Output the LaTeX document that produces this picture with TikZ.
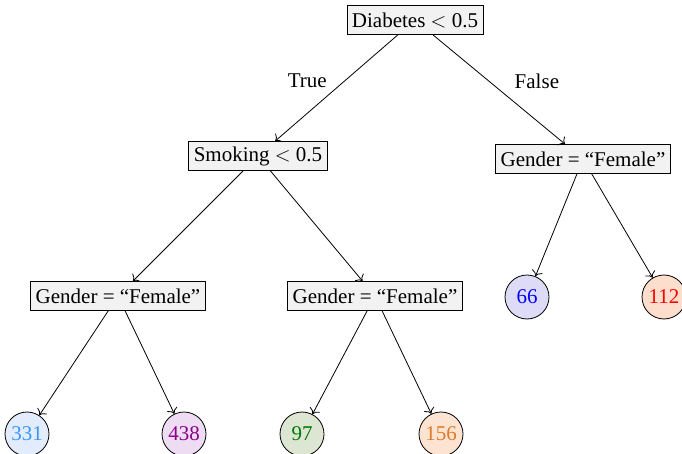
\documentclass[tikz,border=0pt]{standalone}
\usepackage{fontspec}
\setmainfont{Liberation Serif}
\usetikzlibrary{arrows.meta}
\begin{document}
\begin{tikzpicture}[x=1pt,y=-1pt,
    every node/.style={font=\fontsize{21}{25}\selectfont},
    line width=0.8pt,
    split/.style={draw, fill=gray!10, inner sep=5pt, minimum height=29pt},
    leaf/.style={draw, circle, minimum size=44pt, inner sep=0pt},
    edge/.style={-{To[scale=1.6]}},
    branch/.style={draw=none, fill=none}]
  \useasboundingbox (0,0) rectangle (682,454);

  % leaf colours
  \definecolor{azfill}{HTML}{E3ECFC}\definecolor{aztext}{HTML}{3399FF}
  \definecolor{vifill}{HTML}{EEDCF3}\definecolor{vitext}{HTML}{8C008C}
  \definecolor{grfill}{HTML}{DCE6D2}\definecolor{grtext}{HTML}{007A00}
  \definecolor{orfill}{HTML}{FDE3D2}\definecolor{ortext}{HTML}{E07A28}
  \definecolor{blfill}{HTML}{DEDBF7}\definecolor{bltext}{HTML}{0000FF}
  \definecolor{rdfill}{HTML}{FDDDCC}\definecolor{rdtext}{HTML}{FF0000}

  % decision nodes
  \node[split] (root) at (415,20)  {Diabetes $<$ 0.5};
  \node[split] (smk)  at (258,156) {Smoking $<$ 0.5};
  \node[split] (gr)   at (583,159) {Gender = “Female”};
  \node[split] (gl)   at (118,296) {Gender = “Female”};
  \node[split] (gm)   at (375,296) {Gender = “Female”};

  % leaves
  \node[leaf, fill=azfill, text=aztext] (l331) at (27,434)  {331};
  \node[leaf, fill=vifill, text=vitext] (l438) at (184,434) {438};
  \node[leaf, fill=grfill, text=grtext] (l97)  at (302,434) {97};
  \node[leaf, fill=orfill, text=ortext] (l156) at (441,434) {156};
  \node[leaf, fill=blfill, text=bltext] (l66)  at (527,297) {66};
  \node[leaf, fill=rdfill, text=rdtext] (l112) at (664,297) {112};

  % branches
  \draw[edge] (root) -- node[branch, midway, above left, xshift=-6pt, yshift=-3pt] {True} (smk);
  \draw[edge] (root) -- node[branch, midway, above right, xshift=12pt, yshift=-3pt] {False} (gr);
  \draw[edge] (smk) -- (gl);
  \draw[edge] (smk) -- (gm);
  \draw[edge] (gr) -- (l66);
  \draw[edge] (gr) -- (l112);
  \draw[edge] (gl) -- (l331);
  \draw[edge] (gl) -- (l438);
  \draw[edge] (gm) -- (l97);
  \draw[edge] (gm) -- (l156);
\end{tikzpicture}
\end{document}
